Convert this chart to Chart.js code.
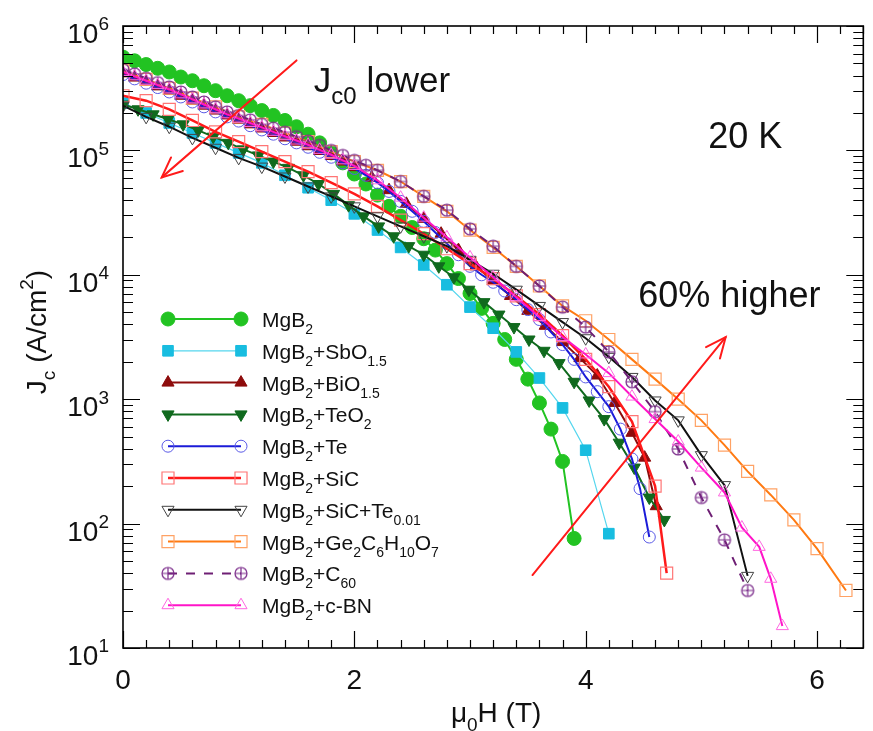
<!DOCTYPE html>
<html><head><meta charset="utf-8">
<script src="https://cdn.jsdelivr.net/npm/chart.js@4.4.1/dist/chart.umd.min.js"></script>
<style>html,body{margin:0;padding:0;background:#fff}</style>
</head><body>
<canvas id="c" width="873" height="731"></canvas>
<script>
// ---------------- data (x: mu0H in T, y: Jc in A/cm^2) ----------------
const hMgB2 = [0,0.1,0.2,0.3,0.4,0.5,0.6,0.7,0.8,0.9,1.0,1.1,1.2,1.3,1.4,1.5,1.6,1.7,1.8,1.9,2.0,2.1,2.2,2.3,2.4,2.5,2.6,2.7,2.8,2.9,3.0,3.1,3.2,3.3,3.4,3.5,3.6,3.7,3.8,3.9];
const jMgB2 = [562000,525000,490000,457000,427000,389000,363000,331000,302000,275000,251000,229000,209000,191000,174000,155000,135000,115000,95500,79400,64600,53700,43700,35500,29500,24000,19500,15800,12300,9330,7080,5370,4070,3020,2090,1450,933,575,316,76];

const hSbO = [0,0.2,0.4,0.6,0.8,1.0,1.2,1.4,1.6,1.8,2.0,2.2,2.4,2.6,2.8,3.0,3.2,3.4,3.6,3.8,4.0,4.2];
const jSbO = [240000,200000,166000,138000,115000,95500,79400,63100,50100,39800,30900,22900,16600,12000,8320,5500,3720,2400,1480,851,389,83];

const hBiO = [0,0.1,0.2,0.3,0.4,0.5,0.6,0.7,0.8,0.9,1.0,1.1,1.2,1.3,1.4,1.5,1.6,1.7,1.8,1.9,2.0,2.15,2.3,2.45,2.6,2.75,2.9,3.05,3.2,3.35,3.5,3.65,3.8,3.95,4.1,4.25,4.4,4.51,4.61];
const jBiO = [417000,385000,355000,327000,302000,275000,251000,229000,209000,191000,176000,162000,150000,138000,127000,117500,108000,98900,90200,81300,73300,60300,47900,37200,28200,21400,15800,11700,8910,6760,5130,3890,2880,2140,1550,933,537,339,138];

const hTeO2 = [0,0.13,0.26,0.39,0.52,0.65,0.78,0.91,1.04,1.17,1.30,1.43,1.56,1.69,1.82,1.95,2.08,2.21,2.34,2.47,2.60,2.73,2.86,2.99,3.12,3.25,3.38,3.51,3.64,3.77,3.90,4.03,4.16,4.29,4.42,4.55,4.68];
const jTeO2 = [234000,214000,195000,178000,162000,145000,129000,115000,102000,91200,81300,72400,63100,53700,44700,36300,29500,24500,20400,17000,14500,11700,9550,7590,6030,4790,3800,3020,2450,1950,1380,977,692,447,282,162,107];

const hTe = [0,0.1,0.2,0.3,0.4,0.5,0.6,0.7,0.8,0.9,1.0,1.1,1.2,1.3,1.4,1.5,1.6,1.7,1.8,1.9,2.0,2.1,2.2,2.3,2.4,2.5,2.6,2.7,2.8,2.9,3.0,3.1,3.2,3.3,3.4,3.5,3.6,3.7,3.8,3.9,4.0,4.1,4.2,4.3,4.4,4.47,4.55];
const jTe = [407000,376000,347000,320000,295000,269000,245000,224000,204000,186000,172000,158000,146000,135000,124000,115000,106000,96600,88100,79400,71600,63100,55000,46800,38900,32400,26900,21900,17800,14500,11700,10000,8710,7410,6310,5250,4370,3470,2750,2090,1510,1150,871,575,331,191,78];

const hSiC = [0,0.2,0.4,0.6,0.8,1.0,1.2,1.4,1.6,1.8,2.0,2.2,2.4,2.6,2.8,3.0,3.2,3.4,3.6,3.8,4.0,4.2,4.4,4.6,4.7];
const jSiC = [275000,251000,214000,174000,141000,117500,97700,81300,67600,55000,44700,35500,27500,21400,16200,12300,9330,6760,4790,3240,2090,1260,661,200,40];

const hSiCTe = [0,0.2,0.4,0.6,0.8,1.0,1.2,1.4,1.6,1.8,2.0,2.2,2.4,2.6,2.8,3.0,3.2,3.4,3.6,3.8,4.0,4.2,4.4,4.6,4.8,5.0,5.2,5.4];
const jSiCTe = [229000,186000,155000,126000,105000,87100,74100,61700,51300,42700,35500,29500,24500,20400,17000,13200,10200,7590,5620,4170,3090,2190,1510,977,676,355,204,38];

const hGe = [0,0.2,0.4,0.6,0.8,1.0,1.2,1.4,1.6,1.8,2.0,2.2,2.4,2.6,2.8,3.0,3.2,3.4,3.6,3.8,4.0,4.2,4.4,4.6,4.8,5.0,5.2,5.4,5.6,5.8,6.0,6.25];
const jGe = [437000,372000,316000,263000,224000,186000,162000,138000,117500,97700,81300,69200,56200,42700,32400,22900,16600,11700,8130,5620,4270,3020,2090,1450,1000,676,427,263,170,107,63,29];

const hC60 = [0,0.1,0.2,0.3,0.4,0.5,0.6,0.7,0.8,0.9,1.0,1.1,1.2,1.3,1.4,1.5,1.6,1.7,1.8,1.9,2.0,2.1,2.2,2.4,2.6,2.8,3.0,3.2,3.4,3.6,3.8,4.0,4.2,4.4,4.6,4.8,5.0,5.2,5.4];
const jC60 = [447000,412000,380000,351000,324000,295000,269000,245000,224000,204000,191000,176000,162000,151000,140000,129000,119000,110000,100000,91200,83200,75900,69200,56200,42700,33100,23400,17000,11700,8130,5500,3800,2400,1380,794,398,162,74,29];

const hBN = [0,0.1,0.2,0.3,0.4,0.5,0.6,0.7,0.8,0.9,1.0,1.1,1.2,1.3,1.4,1.5,1.6,1.7,1.8,1.9,2.0,2.2,2.4,2.6,2.8,3.0,3.2,3.4,3.6,3.8,4.0,4.2,4.4,4.6,4.8,5.0,5.2,5.35,5.5,5.6,5.7];
const jBN = [427000,394000,363000,335000,309000,282000,257000,234000,214000,195000,180000,166000,153000,141000,130000,120000,111000,101000,92300,83200,75000,57500,41700,28800,20000,13800,9550,6610,4570,3160,2290,1620,1050,692,457,282,178,93,65,36,15];

const seriesLabels = ['MgB_{2}','MgB_{2}+SbO_{1.5}','MgB_{2}+BiO_{1.5}','MgB_{2}+TeO_{2}','MgB_{2}+Te','MgB_{2}+SiC','MgB_{2}+SiC+Te_{0.01}','MgB_{2}+Ge_{2}C_{6}H_{10}O_{7}','MgB_{2}+C_{60}','MgB_{2}+c-BN'];
const xTickLabels = ['0','2','4','6'];
const xTickValues = [0,2,4,6];
const yTickExponents = [1,2,3,4,5,6];

// annotations (data coordinates)
const arrowLower = [[1.50, 529000],[0.335, 60700]];
const arrowHigher = [[3.54, 38.6],[5.21, 3150]];
const textLower = {x:1.65, y:293000, s:'J_{c0} lower'};
const textTemp = {x:5.06, y:104000, s:'20 K'};
const textHigher = {x:4.455, y:5480, s:'60% higher'};

// ---------------- styling ----------------
const FONT = "'Liberation Sans', Arial, Helvetica, sans-serif";
function circPlus(color, r){
  const s = 2*r+4, c = document.createElement('canvas'); c.width = s; c.height = s;
  const g = c.getContext('2d'); g.strokeStyle = color; g.lineWidth = 1.2;
  g.beginPath(); g.arc(s/2, s/2, r, 0, 2*Math.PI); g.stroke();
  g.beginPath(); g.moveTo(s/2-r, s/2); g.lineTo(s/2+r, s/2); g.moveTo(s/2, s/2-r); g.lineTo(s/2, s/2+r); g.stroke();
  return c;
}
const C60mark = circPlus('#7a2a8a', 6);
const none = 'rgba(0,0,0,0)';
const styles = [
  {h:hMgB2, j:jMgB2, line:'#22c322', lw:2, ps:'circle', r:7, fill:'#22c322', stroke:'#22c322', bw:1, rot:0},
  {h:hSbO, j:jSbO, line:'#55d6ee', lw:1.2, ps:'rect', r:7.5, fill:'#18bde0', stroke:'#18bde0', bw:1, rot:0},
  {h:hBiO, j:jBiO, line:'#8e0c0c', lw:2, ps:'triangle', r:7, fill:'#8e0c0c', stroke:'#8e0c0c', bw:1, rot:0},
  {h:hTeO2, j:jTeO2, line:'#106a1e', lw:2, ps:'triangle', r:7, fill:'#106a1e', stroke:'#106a1e', bw:1, rot:180},
  {h:hTe, j:jTe, line:'#1b1bd8', lw:2, ps:'circle', r:6, fill:none, stroke:'#5a5ae6', bw:1, rot:0},
  {h:hSiC, j:jSiC, line:'#ff1a1a', lw:2.5, ps:'rect', r:8.5, fill:none, stroke:'#ff7575', bw:1.2, rot:0},
  {h:hSiCTe, j:jSiCTe, line:'#111111', lw:2, ps:'triangle', r:7, fill:none, stroke:'#444444', bw:1, rot:180},
  {h:hGe, j:jGe, line:'#ff7a12', lw:2, ps:'rect', r:8.5, fill:none, stroke:'#ffa265', bw:1.2, rot:0},
  {h:hC60, j:jC60, line:'#6e1f74', lw:2, ps:C60mark, r:6, fill:none, stroke:'#7a2a8a', bw:1, rot:0, dash:[9,9]},
  {h:hBN, j:jBN, line:'#ff14c8', lw:2, ps:'triangle', r:7, fill:none, stroke:'#ff66e0', bw:1, rot:0}
];

const datasets = styles.map((s, i) => ({
  label: seriesLabels[i],
  data: s.h.map((h, k) => ({x: h, y: s.j[k]})),
  borderColor: s.line, borderWidth: s.lw, borderDash: s.dash || [],
  pointStyle: s.ps, pointRadius: s.r, pointRotation: s.rot,
  pointBackgroundColor: s.fill, pointBorderColor: s.stroke, pointBorderWidth: s.bw,
  pointHoverRadius: s.r, fill: false, tension: 0,
  order: styles.length - i
}));

// ---------------- rich text helper ----------------
function parseRich(s){
  const out = []; let i = 0, buf = '';
  while (i < s.length){
    const ch = s[i];
    if ((ch === '_' || ch === '^') && s[i+1] === '{'){
      if (buf){ out.push({t:buf, m:'n'}); buf = ''; }
      const j = s.indexOf('}', i);
      out.push({t:s.slice(i+2, j), m: ch === '_' ? 'sub' : 'sup'});
      i = j + 1;
    } else { buf += ch; i++; }
  }
  if (buf) out.push({t:buf, m:'n'});
  return out;
}
function drawRich(ctx, s, x, y, size, align){
  const toks = parseRich(s), ss = Math.round(size*0.68);
  let w = 0; const ws = [];
  toks.forEach(t => { ctx.font = (t.m === 'n' ? size : ss) + 'px ' + FONT; const ww = ctx.measureText(t.t).width; ws.push(ww); w += ww; });
  let cx = align === 'center' ? x - w/2 : (align === 'right' ? x - w : x);
  ctx.textAlign = 'left'; ctx.textBaseline = 'alphabetic';
  toks.forEach((t, k) => {
    ctx.font = (t.m === 'n' ? size : ss) + 'px ' + FONT;
    const dy = t.m === 'sub' ? size*0.33 : (t.m === 'sup' ? -size*0.45 : 0);
    ctx.fillText(t.t, cx, y + dy); cx += ws[k];
  });
}
function arrow(ctx, xs, ys, p0, p1){
  const x0 = xs.getPixelForValue(p0[0]), y0 = ys.getPixelForValue(p0[1]);
  const x1 = xs.getPixelForValue(p1[0]), y1 = ys.getPixelForValue(p1[1]);
  ctx.save(); ctx.strokeStyle = '#ff1a1a'; ctx.lineWidth = 2; ctx.lineCap = 'round';
  ctx.beginPath(); ctx.moveTo(x0, y0); ctx.lineTo(x1, y1); ctx.stroke();
  const a = Math.atan2(y0 - y1, x0 - x1), L = 22, da = 0.42;
  ctx.beginPath();
  ctx.moveTo(x1 + L*Math.cos(a+da), y1 + L*Math.sin(a+da)); ctx.lineTo(x1, y1);
  ctx.lineTo(x1 + L*Math.cos(a-da), y1 + L*Math.sin(a-da)); ctx.stroke();
  ctx.restore();
}

const decor = {
  id: 'decor',
  afterDatasetsDraw(chart){
    const ctx = chart.ctx, a = chart.chartArea, xs = chart.scales.x, ys = chart.scales.y;
    ctx.save();
    arrow(ctx, xs, ys, arrowLower[0], arrowLower[1]);
    arrow(ctx, xs, ys, arrowHigher[0], arrowHigher[1]);
    ctx.strokeStyle = '#000'; ctx.lineWidth = 1.6;
    ctx.strokeRect(a.left, a.top, a.right - a.left, a.bottom - a.top);
    ctx.lineWidth = 1.2;
    ctx.beginPath();
    for (let i = 0; i <= 32; i++){
      const v = i/5, px = Math.round(xs.getPixelForValue(v)) + 0.5;
      const L = (i % 10 === 0) ? 17 : 8;
      ctx.moveTo(px, a.bottom); ctx.lineTo(px, a.bottom - L);
      ctx.moveTo(px, a.top); ctx.lineTo(px, a.top + L);
    }
    for (let e = 1; e <= 6; e++){
      for (let m = 1; m <= 9; m++){
        if (e === 6 && m > 1) break;
        const v = m * Math.pow(10, e), py = Math.round(ys.getPixelForValue(v)) + 0.5;
        const L = m === 1 ? 17 : 10;
        ctx.moveTo(a.left, py); ctx.lineTo(a.left + L, py);
        ctx.moveTo(a.right, py); ctx.lineTo(a.right - L, py);
      }
    }
    ctx.stroke();
    ctx.fillStyle = '#111';
    xTickValues.forEach((v, i) => drawRich(ctx, xTickLabels[i], xs.getPixelForValue(v), a.bottom + 41, 28, 'center'));
    yTickExponents.forEach(e => drawRich(ctx, '10^{' + e + '}', a.left - 14, ys.getPixelForValue(Math.pow(10, e)) + 17, 28, 'right'));
    drawRich(ctx, '\u03bc_{0}H (T)', (a.left + a.right)/2 + 3, a.bottom + 74, 28, 'center');
    ctx.save(); ctx.translate(46, (a.top + a.bottom)/2 - 5); ctx.rotate(-Math.PI/2);
    drawRich(ctx, 'J_{c} (A/cm^{2})', 0, 0, 28, 'center'); ctx.restore();
    drawRich(ctx, textLower.s, xs.getPixelForValue(textLower.x), ys.getPixelForValue(textLower.y), 35, 'left');
    drawRich(ctx, textTemp.s, xs.getPixelForValue(textTemp.x), ys.getPixelForValue(textTemp.y), 36, 'left');
    drawRich(ctx, textHigher.s, xs.getPixelForValue(textHigher.x), ys.getPixelForValue(textHigher.y), 36, 'left');
    const lx0 = 168, lx1 = 241, ly0 = 319, dy = 31.8;
    styles.forEach((s, i) => {
      const y = ly0 + i*dy;
      ctx.save();
      ctx.strokeStyle = s.line; ctx.lineWidth = s.lw; ctx.setLineDash(s.dash || []);
      ctx.beginPath(); ctx.moveTo(lx0, y); ctx.lineTo(lx1, y); ctx.stroke();
      ctx.setLineDash([]);
      ctx.fillStyle = s.fill; ctx.strokeStyle = s.stroke; ctx.lineWidth = s.bw;
      [lx0, lx1].forEach(px => Chart.helpers.drawPoint(ctx, {pointStyle: s.ps, radius: s.r, rotation: s.rot, borderWidth: s.bw}, px, y));
      ctx.restore();
      ctx.fillStyle = '#111';
      drawRich(ctx, seriesLabels[i], 262, y + 8, 21, 'left');
    });
    ctx.restore();
  }
};

new Chart(document.getElementById('c'), {
  type: 'line',
  data: {datasets},
  options: {
    responsive: false, animation: false, devicePixelRatio: 1,
    layout: {padding: {left: 123, top: 26, right: 4, bottom: 83}},
    scales: {
      x: {type: 'linear', min: 0, max: 6.4, display: false},
      y: {type: 'logarithmic', min: 10, max: 1e6, display: false}
    },
    plugins: {legend: {display: false}, tooltip: {enabled: false}},
    elements: {line: {tension: 0}}
  },
  plugins: [decor]
});
</script>
</body></html>
